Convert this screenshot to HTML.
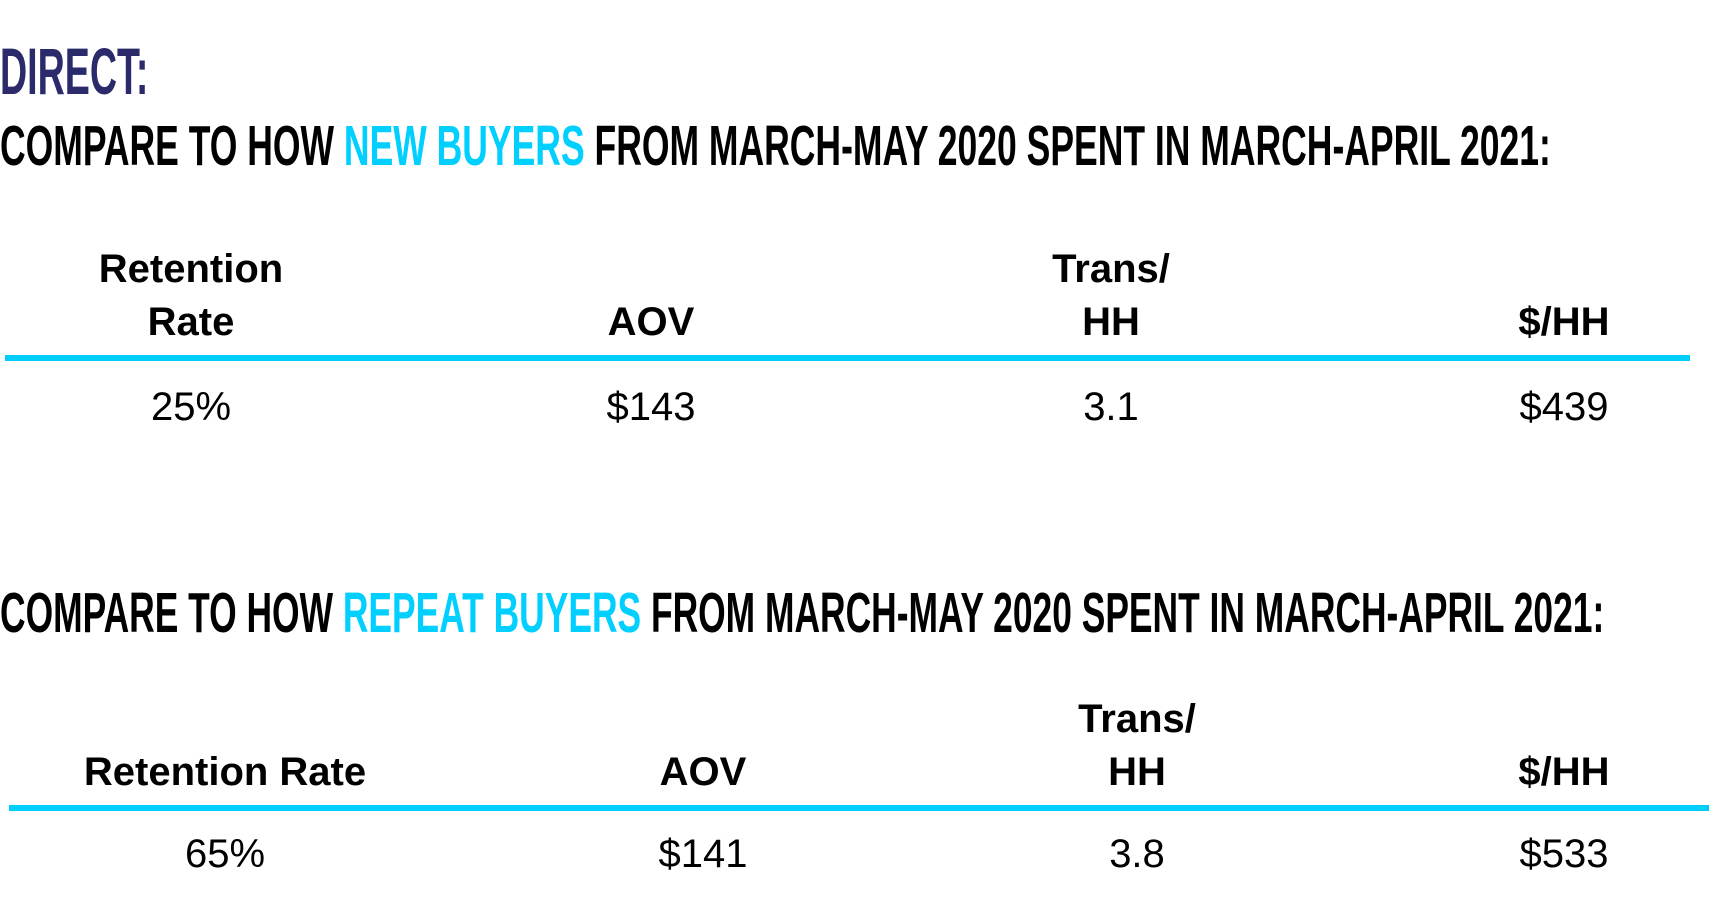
<!DOCTYPE html>
<html><head><meta charset="utf-8"><style>
html,body{margin:0;padding:0;background:#fff;width:1721px;height:913px;overflow:hidden;position:relative;font-family:"Liberation Sans",sans-serif}
.h{position:absolute;left:0;white-space:nowrap;font-weight:bold;transform-origin:0 0;line-height:1}
.c{color:#00cfff}
.t{position:absolute;width:300px;text-align:center;font-size:40px;line-height:1;white-space:nowrap;color:#000}
.b{font-weight:bold}
.line{position:absolute;height:6px;background:#00cdf9}
</style></head><body>
<div class="h" style="top:38px;font-size:66px;color:#2b2a6b;transform:scaleX(0.57)">DIRECT:</div>
<div class="h" style="top:118px;font-size:57px;transform:scaleX(0.623)">COMPARE TO HOW <span class="c">NEW BUYERS</span> FROM MARCH-MAY 2020 SPENT IN MARCH-APRIL 2021:</div>

<div class="t b" style="left:41px;top:249px">Retention</div>
<div class="t b" style="left:41px;top:302px">Rate</div>
<div class="t b" style="left:501px;top:302px">AOV</div>
<div class="t b" style="left:961px;top:249px">Trans/</div>
<div class="t b" style="left:961px;top:302px">HH</div>
<div class="t b" style="left:1414px;top:302px">$/HH</div>
<div class="line" style="left:5px;width:1694px;top:355px;width:1685px"></div>
<div class="t" style="left:41px;top:387px">25%</div>
<div class="t" style="left:501px;top:387px">$143</div>
<div class="t" style="left:961px;top:387px">3.1</div>
<div class="t" style="left:1414px;top:387px">$439</div>

<div class="h" style="top:585px;font-size:57px;transform:scaleX(0.621)">COMPARE TO HOW <span class="c">REPEAT BUYERS</span> FROM MARCH-MAY 2020 SPENT IN MARCH-APRIL 2021:</div>

<div class="t b" style="left:75px;top:752px">Retention Rate</div>
<div class="t b" style="left:553px;top:752px">AOV</div>
<div class="t b" style="left:987px;top:699px">Trans/</div>
<div class="t b" style="left:987px;top:752px">HH</div>
<div class="t b" style="left:1414px;top:752px">$/HH</div>
<div class="line" style="left:9px;width:1700px;top:805px"></div>
<div class="t" style="left:75px;top:834px">65%</div>
<div class="t" style="left:553px;top:834px">$141</div>
<div class="t" style="left:987px;top:834px">3.8</div>
<div class="t" style="left:1414px;top:834px">$533</div>
</body></html>
